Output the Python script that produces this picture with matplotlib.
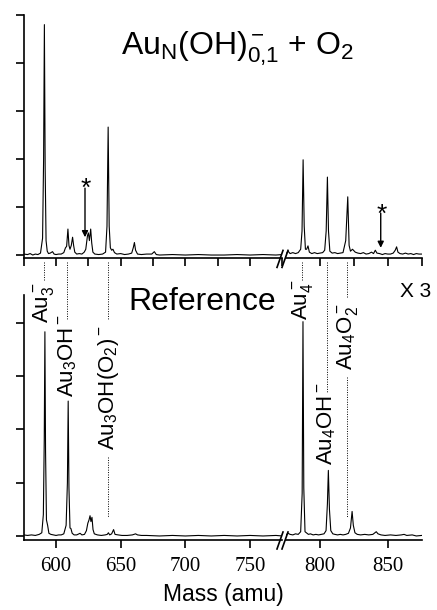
import numpy as np
import matplotlib.pyplot as plt
from matplotlib.lines import Line2D

plt.rcParams['font.family'] = 'Liberation Sans'
plt.rcParams['mathtext.fontset'] = 'custom'
plt.rcParams['mathtext.rm'] = 'Liberation Sans'
plt.rcParams['mathtext.it'] = 'Liberation Sans:italic'
plt.rcParams['mathtext.bf'] = 'Liberation Sans:bold'

# spectra: (mass, intensity in tick units)
top_left = [(575, 0.02), (578, 0.01), (580, 0.03), (582, 0.0), (584, 0.02), (586, 0.01), (588, 0.04),
            (589.6, 0.35), (590.4, 2.0), (591.0, 4.79), (591.6, 1.8), (592.3, 0.3), (593.2, 0.08),
            (594.2, 0.03), (595.5, 0.04), (597.3, 0.07), (598.5, 0.02), (600, 0.01), (602, 0.02),
            (604, 0.02), (606, 0.05), (607.3, 0.15), (608.2, 0.18), (609.2, 0.54), (610.0, 0.2),
            (610.8, 0.12), (611.8, 0.2), (612.8, 0.37), (613.6, 0.2), (614.5, 0.06), (616, 0.02),
            (618, 0.03), (620, 0.02), (621.8, 0.06), (623, 0.12), (624.3, 0.4), (625, 0.46),
            (625.8, 0.3), (626.8, 0.54), (627.6, 0.25), (628.5, 0.06), (630, 0.02), (633, 0.01),
            (636, 0.02), (638.3, 0.06), (639.4, 0.6), (640.3, 2.66), (641.1, 0.6), (642.0, 0.15),
            (643.0, 0.1), (644.0, 0.12), (645.2, 0.05), (647, 0.02), (650, 0.03), (653, 0.01),
            (656, 0.02), (658.5, 0.04), (659.8, 0.16), (660.6, 0.26), (661.5, 0.1), (663, 0.02),
            (666, 0.01), (670, 0.02), (674, 0.02), (676, 0.07), (677.5, 0.01), (680, 0.0), (690, 0.01),
            (700, 0.0), (710, 0.01), (720, 0.0), (730, 0.0), (740, 0.01), (750, 0.0), (760, 0.01),
            (770, 0.0), (775, 0.01)]
top_right = [(775, 0.02), (776.5, 0.08), (778, 0.03), (780, 0.05), (782, 0.03), (784, 0.05),
             (785.8, 0.12), (786.8, 0.5), (787.6, 1.98), (788.4, 0.6), (789.3, 0.12), (790.2, 0.12),
             (791.2, 0.19), (792.2, 0.06), (794, 0.03), (796, 0.05), (798, 0.03), (800, 0.04),
             (802, 0.05), (803.5, 0.1), (804.6, 0.5), (805.5, 1.62), (806.3, 0.5), (807.3, 0.08),
             (809, 0.04), (811, 0.05), (813, 0.03), (815, 0.04), (817, 0.05), (819, 0.3),
             (820.5, 1.21), (821.5, 0.2), (822.5, 0.08), (824, 0.12), (826, 0.06), (828, 0.04),
             (830, 0.03), (832, 0.05), (834, 0.02), (836, 0.03), (838, 0.06), (839.5, 0.03),
             (840.8, 0.1), (842, 0.04), (844, 0.03), (846, 0.01), (848, 0.03), (850, 0.02),
             (852, 0.02), (854, 0.04), (855.5, 0.1), (856.5, 0.17), (857.5, 0.06), (859, 0.03),
             (861, 0.02), (863, 0.04), (865, 0.02), (867, 0.03), (869, 0.01), (871, 0.03),
             (873, 0.02), (875, 0.02)]
bot_left = [(575, 0.02), (578, 0.01), (581, 0.02), (584, 0.01), (587, 0.03), (589, 0.06),
            (590.2, 0.4), (590.9, 1.8), (591.4, 3.83), (591.9, 1.6), (592.6, 0.3), (593.5, 0.2),
            (594.5, 0.05), (596, 0.03), (598, 0.02), (600, 0.01), (602, 0.02), (604, 0.02),
            (606, 0.04), (607.8, 0.2), (608.8, 1.0), (609.4, 2.53), (610.0, 0.9), (610.8, 0.15),
            (611.5, 0.14), (612.5, 0.05), (614, 0.02), (616, 0.02), (618.6, 0.05), (620, 0.02),
            (622, 0.03), (623.5, 0.1), (624.6, 0.24), (625.5, 0.3), (626.3, 0.38), (627.0, 0.27),
            (627.8, 0.35), (628.6, 0.12), (629.6, 0.04), (632, 0.02), (635, 0.01), (638, 0.02),
            (639.6, 0.03), (640.5, 0.06), (641.5, 0.02), (643, 0.04), (644.5, 0.12), (645.6, 0.03),
            (648, 0.02), (651, 0.01), (655, 0.01), (659, 0.02), (661.5, 0.04), (663, 0.02),
            (666, 0.01), (670, 0.01), (680, 0.0), (690, 0.01), (700, 0.0), (710, 0.01), (720, 0.0),
            (730, 0.01), (740, 0.0), (750, 0.01), (760, 0.0), (770, 0.01), (775, 0.0)]
bot_right = [(775, 0.02), (776.5, 0.05), (778, 0.03), (780, 0.02), (782, 0.04), (784, 0.03),
             (785.8, 0.08), (786.9, 0.8), (787.5, 4.02), (788.1, 0.9), (789.0, 0.08), (790, 0.06),
             (791.5, 0.03), (793, 0.04), (795, 0.02), (797, 0.03), (799, 0.02), (801, 0.03),
             (803, 0.04), (804.5, 0.1), (805.5, 0.6), (806.2, 1.23), (807.0, 0.5), (808.0, 0.1),
             (809.5, 0.04), (811, 0.03), (813, 0.02), (815, 0.03), (817, 0.02), (819, 0.03),
             (821, 0.05), (822.5, 0.15), (823.7, 0.46), (824.6, 0.2), (825.8, 0.06), (827.5, 0.03),
             (830, 0.02), (833, 0.03), (836, 0.02), (839, 0.03), (840.5, 0.06), (841.5, 0.08),
             (842.8, 0.04), (845, 0.02), (848, 0.01), (852, 0.02), (856, 0.01), (860, 0.02),
             (862, 0.03), (864, 0.01), (868, 0.02), (871, 0.0), (875, 0.01)]

peak_labels = ['Au$_3^-$', 'Au$_3$OH$^-$', 'Au$_3$OH(O$_2$)$^-$', 'Au$_4^-$', 'Au$_4$OH$^-$', 'Au$_4$O$_2^-$']
peak_mass = [590.7, 608.7, 640.2, 786.9, 805.3, 820.3]
label_y = [4.0, 2.61, 1.61, 4.05, 1.33, 3.11]
dotted = [[(5.14, 4.78)], [(5.14, 4.07)], [(5.14, 4.05), (1.48, 0.36)],
          [(5.14, 4.78)], [(5.14, 2.70)], [(5.14, 4.48), (2.98, 0.36)]]

W, H = 437, 610
def fx(x): return x / W
def fy(y): return 1 - y / H

fig = plt.figure(figsize=(4.37, 6.10), dpi=100)
ax_tl = fig.add_axes([0.0542, 0.5764, 0.592, 0.3998])
ax_tr = fig.add_axes([0.6545, 0.5764, 0.3105, 0.3998])
ax_bl = fig.add_axes([0.0542, 0.1148, 0.592, 0.4016])
ax_br = fig.add_axes([0.6545, 0.1148, 0.3105, 0.4016])

for ax, d in [(ax_tl, top_left), (ax_tr, top_right), (ax_bl, bot_left), (ax_br, bot_right)]:
    d = np.array(d)
    ax.plot(d[:, 0], d[:, 1], color='k', lw=0.8)
    for s in ['top', 'right']:
        ax.spines[s].set_visible(False)
    for s in ['left', 'bottom']:
        ax.spines[s].set_linewidth(1.2)
    ax.tick_params(direction='out', length=5.5, width=1.2)
    ax.set_facecolor('none')

for ax in [ax_tl, ax_bl]:
    ax.set_xlim(575, 775)
for ax in [ax_tr, ax_br]:
    ax.set_xlim(775, 875)
    ax.spines['left'].set_visible(False)
    ax.tick_params(left=False, labelleft=False)

for ax in [ax_tl, ax_tr]:
    ax.set_ylim(-0.07, 5.0)
    ax.set_yticks(range(0, 6))
    ax.tick_params(labelleft=False, labelbottom=False)
ax_tl.set_xticks(np.arange(575, 776, 25))
ax_tr.set_xticks(np.arange(800, 876, 25))

for ax in [ax_bl, ax_br]:
    ax.set_ylim(-0.075, 4.52)
    ax.set_yticks(range(0, 5))
    ax.tick_params(labelleft=False, pad=7)
ax_bl.set_xticks([600, 650, 700, 750])
ax_br.set_xticks([800, 850])
for ax in [ax_bl, ax_br]:
    for t in ax.get_xticklabels():
        t.set_fontfamily('Liberation Serif')
        t.set_fontsize(15)

# peak labels with dotted leaders
for i in range(len(peak_labels)):
    ax = ax_bl if peak_mass[i] < 775 else ax_br
    ax.text(peak_mass[i], label_y[i], peak_labels[i], rotation=90, ha='center', va='bottom',
            fontsize=16, clip_on=False)
    for y0, y1 in dotted[i]:
        ax.plot([peak_mass[i], peak_mass[i]], [y0, y1], color='k', lw=0.7,
                dashes=(1, 1.5), clip_on=False)

# asterisks
ax_tl.annotate('', xy=(622.4, 0.37), xytext=(622.4, 1.39),
               arrowprops=dict(arrowstyle='-|>', color='k', lw=1, mutation_scale=9, shrinkA=0, shrinkB=0))
ax_tl.text(622.8, 1.23, '*', ha='center', va='baseline', fontsize=19)
ax_tr.annotate('', xy=(844.8, 0.15), xytext=(844.8, 0.87),
               arrowprops=dict(arrowstyle='-|>', color='k', lw=1, mutation_scale=9, shrinkA=0, shrinkB=0))
ax_tr.text(845.3, 0.68, '*', ha='center', va='baseline', fontsize=19)

# axis break marks
for ay in [258.4, 540]:
    for x0 in [277, 282]:
        fig.add_artist(Line2D([fx(x0), fx(x0 + 6)], [fy(ay + 9), fy(ay - 8)], color='k', lw=1.2))

fig.text(fx(237.5), fy(55), r'Au$_\mathrm{N}$(OH)$_{0{,}1}^-$ + O$_2$', ha='center', va='baseline', fontsize=23)
fig.text(fx(202), fy(310), 'Reference', ha='center', va='baseline', fontsize=23)
fig.text(fx(400), fy(297), 'X 3', ha='left', va='baseline', fontsize=15)
fig.text(fx(223), fy(601), 'Mass (amu)', ha='center', va='baseline', fontsize=16.5)

fig.savefig('out.png', dpi=100)
